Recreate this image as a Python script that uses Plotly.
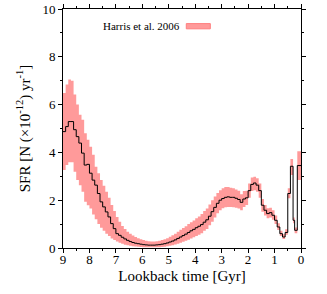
import plotly.graph_objects as go

# Bin edges (lookback time, Gyr), from old to young
t_edges = [9.0, 8.9, 8.8, 8.7, 8.6, 8.5, 8.4, 8.3, 8.2, 8.1,
           8.0, 7.9, 7.8, 7.7, 7.6, 7.5, 7.4, 7.3, 7.2, 7.1,
           7.0, 6.9, 6.8, 6.7, 6.6, 6.5, 6.4, 6.3, 6.2, 6.1,
           6.0, 5.9, 5.8, 5.7, 5.6, 5.5, 5.4, 5.3, 5.2, 5.1,
           5.0, 4.9, 4.8, 4.7, 4.6, 4.5, 4.4, 4.3, 4.2, 4.1,
           4.0, 3.9, 3.8, 3.7, 3.6, 3.5, 3.4, 3.3, 3.2, 3.1,
           3.0, 2.9, 2.8, 2.7, 2.6, 2.5, 2.4, 2.3, 2.2, 2.1,
           2.0, 1.9, 1.8, 1.7, 1.6, 1.5, 1.4, 1.3, 1.2, 1.1,
           1.0, 0.9, 0.8, 0.7, 0.6, 0.5, 0.4, 0.3, 0.24, 0.14, 0.0]

sfr = [4.87, 5.08, 5.29, 5.29, 4.95, 4.66, 4.39, 3.97, 3.47, 3.50,
       3.13, 2.84, 2.63, 2.28, 1.93, 1.72, 1.51, 1.30, 1.02, 0.81,
       0.60, 0.53, 0.45, 0.38, 0.32, 0.27, 0.23, 0.20, 0.18, 0.16,
       0.14, 0.13, 0.12, 0.12, 0.12, 0.13, 0.14, 0.16, 0.18, 0.21,
       0.25, 0.29, 0.34, 0.40, 0.46, 0.52, 0.58, 0.65, 0.72, 0.78,
       0.85, 0.91, 0.98, 1.08, 1.18, 1.33, 1.52, 1.70, 1.87, 2.00,
       2.07, 2.12, 2.14, 2.12, 2.12, 2.08, 2.03, 1.91, 2.05, 2.10,
       2.40, 2.66, 2.72, 2.63, 2.40, 1.79, 1.58, 1.44, 1.48, 1.37,
       1.16, 0.88, 0.60, 0.46, 0.65, 2.28, 3.42, 1.16, 0.74, 3.45]

sfr_hi = [6.49, 6.84, 7.05, 7.00, 6.42, 6.00, 5.58, 5.37, 4.80, 4.53,
          4.24, 3.90, 3.40, 3.13, 2.85, 2.60, 2.35, 2.10, 1.80, 1.55,
          1.30, 1.10, 0.92, 0.80, 0.68, 0.60, 0.52, 0.46, 0.41, 0.37,
          0.33, 0.30, 0.28, 0.27, 0.27, 0.28, 0.30, 0.33, 0.37, 0.41,
          0.47, 0.53, 0.60, 0.68, 0.76, 0.84, 0.91, 1.00, 1.08, 1.15,
          1.25, 1.32, 1.42, 1.55, 1.65, 1.82, 2.00, 2.15, 2.30, 2.42,
          2.50, 2.55, 2.55, 2.52, 2.50, 2.45, 2.40, 2.25, 2.38, 2.40,
          2.70, 2.95, 2.98, 2.92, 2.70, 2.05, 1.80, 1.66, 1.68, 1.58,
          1.36, 1.04, 0.72, 0.58, 0.78, 2.50, 3.72, 1.28, 0.86, 4.05]

sfr_lo = [3.26, 3.47, 3.59, 3.59, 3.19, 2.84, 2.63, 2.35, 1.93, 1.79,
          1.65, 1.40, 1.20, 1.00, 0.85, 0.72, 0.60, 0.50, 0.40, 0.33,
          0.27, 0.22, 0.18, 0.14, 0.11, 0.09, 0.07, 0.06, 0.05, 0.04,
          0.03, 0.03, 0.03, 0.03, 0.03, 0.03, 0.03, 0.04, 0.05, 0.07,
          0.09, 0.12, 0.15, 0.18, 0.22, 0.26, 0.30, 0.34, 0.40, 0.45,
          0.50, 0.55, 0.62, 0.72, 0.80, 0.95, 1.10, 1.28, 1.45, 1.58,
          1.66, 1.70, 1.72, 1.72, 1.70, 1.68, 1.65, 1.58, 1.72, 1.80,
          2.10, 2.38, 2.42, 2.35, 2.10, 1.52, 1.36, 1.25, 1.28, 1.18,
          1.00, 0.75, 0.50, 0.38, 0.55, 2.08, 3.05, 1.04, 0.62, 2.85]

legend_label = "Harris et al. 2006"

band_color = "#ff9a9a"

# step series: repeat last value so the final bin is drawn to its right edge
def stepify(vals):
    return list(vals) + [vals[-1]]

fig = go.Figure()
fig.add_trace(go.Scatter(x=t_edges, y=stepify(sfr_lo), mode="lines",
                         line=dict(width=0, shape="hv", color=band_color),
                         showlegend=False, hoverinfo="skip"))
fig.add_trace(go.Scatter(x=t_edges, y=stepify(sfr_hi), mode="lines",
                         line=dict(width=0, shape="hv", color=band_color),
                         fill="tonexty", fillcolor=band_color,
                         name=legend_label, showlegend=False))
fig.add_trace(go.Scatter(x=t_edges, y=stepify(sfr), mode="lines",
                         line=dict(width=1, shape="hv", color="black"),
                         showlegend=False))

font_family = "Liberation Serif, Times New Roman, serif"

fig.update_layout(
    width=327, height=294,
    margin=dict(l=63, r=26, t=9, b=46, autoexpand=False),
    paper_bgcolor="white", plot_bgcolor="white",
    font=dict(family=font_family, size=13, color="black"),
    showlegend=False,
)
fig.update_xaxes(
    range=[9, 0], showgrid=False, zeroline=False, automargin=False,
    showline=True, linecolor="black", linewidth=1, mirror="ticks",
    ticks="outside", ticklen=4, tickwidth=1, tickcolor="black",
    tickmode="array", tickvals=[9, 8, 7, 6, 5, 4, 3, 2, 1, 0],
    ticktext=["9", "8", "7", "6", "5", "4", "3", "2", "1", "0"],
    minor=dict(tickvals=[8.5, 7.5, 6.5, 5.5, 4.5, 3.5, 2.5, 1.5, 0.5],
               ticks="outside", ticklen=2, tickcolor="black"),
    tickfont=dict(size=13), ticklabelstandoff=-5,
    title=dict(text="Lookback time [Gyr]", font=dict(size=15), standoff=4),
)
fig.update_yaxes(
    range=[0, 10], showgrid=False, zeroline=False, automargin=False,
    showline=True, linecolor="black", linewidth=1, mirror="ticks",
    ticks="outside", ticklen=4, tickwidth=1, tickcolor="black",
    tickmode="array", tickvals=[0, 2, 4, 6, 8, 10],
    ticktext=["0", "2", "4", "6", "8", "10"],
    minor=dict(tickvals=[1, 3, 5, 7, 9], ticks="outside", ticklen=2,
               tickcolor="black"),
    tickfont=dict(size=13),
    title=dict(text="SFR [N (×10<sup>-12</sup>) yr<sup>-1</sup>]",
               font=dict(size=15), standoff=8),
)

# legend: label text followed by a colour patch, as in the original
fig.add_annotation(xref="paper", yref="paper", x=0.502, y=0.929,
                   xanchor="right", yanchor="middle", showarrow=False,
                   text=legend_label, font=dict(size=11))
fig.add_shape(type="rect", xref="paper", yref="paper",
              x0=0.518, x1=0.619, y0=0.917, y1=0.939,
              fillcolor=band_color, line=dict(color="#ff7f7f", width=1))

# remove the browser's default 8px page margin so the figure fills the window
fig.write_html("out.html",
               config={"displayModeBar": False},
               post_script="document.body.style.margin='0';"
                           "document.body.style.overflow='hidden';")
